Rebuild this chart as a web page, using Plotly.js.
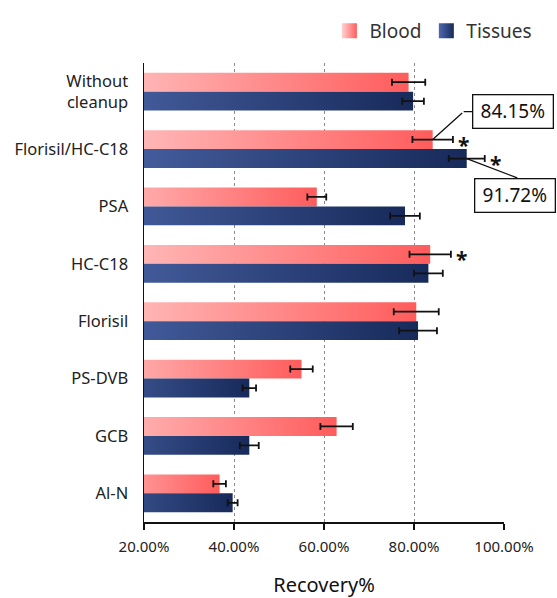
<!DOCTYPE html>
<html>
<head>
<meta charset="utf-8">
<script src="https://cdn.plot.ly/plotly-3.0.1.min.js"></script>
<style>html,body{margin:0;padding:0;background:#fff;}#chart{width:557px;height:598px;}</style>
</head>
<body>
<div id="chart"></div>
<script>
const categories = ['Without<br>cleanup', 'Florisil/HC-C18', 'PSA', 'HC-C18', 'Florisil', 'PS-DVB', 'GCB', 'Al-N'];
const blood = [78.8, 84.15, 58.4, 83.6, 80.5, 55.0, 62.8, 36.8];
const bloodErr = [3.7, 4.5, 2.1, 4.6, 5.0, 2.5, 3.6, 1.4];
const tissues = [79.8, 91.72, 78.0, 83.2, 80.9, 43.4, 43.4, 39.7];
const tissuesErr = [2.4, 4.0, 3.3, 3.2, 4.2, 1.5, 2.1, 1.1];
const seriesNames = ['Blood', 'Tissues'];
const xTicks = [20, 40, 60, 80, 100];
const xTickText = ['20.00%', '40.00%', '60.00%', '80.00%', '100.00%'];
const starred = [{series: 0, index: 1}, {series: 1, index: 1}, {series: 0, index: 3}];

const FONT = 'Noto Sans, Open Sans, sans-serif';
const vals = [blood, tissues];
const errs = [bloodErr, tissuesErr];
const half = 0.165;

const traces = [0, 1].map(s => ({
  type: 'bar',
  orientation: 'h',
  name: seriesNames[s],
  y: categories,
  x: vals[s],
  marker: {color: s === 0 ? '#ff8a8a' : '#2f4687', line: {width: 0}},
  error_x: {type: 'data', array: errs[s], visible: true, color: '#111', thickness: 1.8, width: 3.5}
}));

const annotations = [];
starred.forEach(p => {
  annotations.push({
    x: vals[p.series][p.index] + errs[p.series][p.index],
    y: p.index + (p.series === 0 ? -half : half),
    xref: 'x', yref: 'y', text: '<b>*</b>', showarrow: false,
    xanchor: 'center', yanchor: 'middle', xshift: 11, yshift: -5,
    font: {family: FONT, size: 21, color: '#111'}
  });
});
annotations.push({
  x: blood[1], y: 1 - half, xref: 'x', yref: 'y', text: '', showarrow: true,
  arrowhead: 0, arrowwidth: 1.3, arrowcolor: '#111', ax: 31, ay: -28, standoff: 0, startstandoff: 0
});
annotations.push({
  x: blood[1], y: 1 - half, xref: 'x', yref: 'y', text: '', showarrow: true,
  arrowhead: 0, arrowwidth: 1.3, arrowcolor: '#111', ax: 10, ay: 0, xshift: 31, yshift: 28, standoff: 0, startstandoff: 0
});
annotations.push({
  x: 1.026, y: 0.894, xref: 'paper', yref: 'paper', text: blood[1].toFixed(2) + '%', showarrow: false,
  xanchor: 'center', yanchor: 'middle', bordercolor: '#111', borderwidth: 1.3, borderpad: 3,
  bgcolor: '#fff', width: 73, height: 26, font: {family: FONT, size: 19, color: '#111'}
});
annotations.push({
  x: tissues[1], y: 1 + half, xref: 'x', yref: 'y', text: '', showarrow: true,
  arrowhead: 0, arrowwidth: 1.3, arrowcolor: '#111', ax: 52, ay: 20, standoff: 0, startstandoff: 0
});
annotations.push({
  x: 1.030, y: 0.712, xref: 'paper', yref: 'paper', text: tissues[1].toFixed(2) + '%', showarrow: false,
  xanchor: 'center', yanchor: 'middle', bordercolor: '#111', borderwidth: 1.3, borderpad: 3,
  bgcolor: '#fff', width: 73, height: 26, font: {family: FONT, size: 19, color: '#111'}
});

const layout = {
  width: 557, height: 598,
  margin: {l: 143.5, r: 52.5, t: 50, b: 76},
  paper_bgcolor: '#fff', plot_bgcolor: '#fff',
  barmode: 'group', bargap: 0.34, bargroupgap: 0,
  font: {family: FONT, color: '#222'},
  showlegend: true,
  legend: {
    orientation: 'h', x: 0.515, y: 1.07, xanchor: 'left', yanchor: 'middle',
    font: {family: FONT, size: 19, color: '#333'}, bgcolor: 'rgba(0,0,0,0)', traceorder: 'normal'
  },
  xaxis: {
    range: [20, 100], tickmode: 'array', tickvals: xTicks, ticktext: xTickText,
    showline: true, linecolor: '#111', linewidth: 1.5, mirror: false,
    ticks: 'outside', ticklen: 6, tickwidth: 1.5, tickcolor: '#111',
    showgrid: true, gridcolor: '#8a8a8a', griddash: 'dot', gridwidth: 1, zeroline: false,
    tickfont: {family: FONT, size: 15, color: '#222'}, ticklabelstandoff: 4,
    title: {text: 'Recovery%', font: {family: FONT, size: 20, color: '#111'}, standoff: 25},
    fixedrange: true
  },
  yaxis: {
    type: 'category', autorange: 'reversed',
    showline: true, linecolor: '#111', linewidth: 1.5, ticks: '', showgrid: false, zeroline: false,
    tickfont: {family: FONT, size: 16.5, color: '#222'}, ticklabelstandoff: 11,
    fixedrange: true
  },
  annotations: annotations
};

const gd = document.getElementById('chart');
Plotly.newPlot(gd, traces, layout, {displayModeBar: false, staticPlot: true}).then(() => {
  const svg = gd.querySelector('svg.main-svg');
  const ns = 'http://www.w3.org/2000/svg';
  let defs = svg.querySelector('defs');
  if (!defs) { defs = document.createElementNS(ns, 'defs'); svg.insertBefore(defs, svg.firstChild); }
  const grads = [
    {id: 'gBlood', stops: [['0%', '#ffd2d2'], ['100%', '#ff5c5c']]},
    {id: 'gTissue', stops: [['0%', '#4f69ad'], ['100%', '#172a5a']]}
  ];
  grads.forEach(g => {
    const lg = document.createElementNS(ns, 'linearGradient');
    lg.setAttribute('id', g.id);
    lg.setAttribute('x1', '0'); lg.setAttribute('y1', '0');
    lg.setAttribute('x2', '1'); lg.setAttribute('y2', '0');
    g.stops.forEach(st => {
      const s = document.createElementNS(ns, 'stop');
      s.setAttribute('offset', st[0]); s.setAttribute('stop-color', st[1]);
      lg.appendChild(s);
    });
    defs.appendChild(lg);
  });
  const ids = ['gBlood', 'gTissue'];
  gd.querySelectorAll('.barlayer .trace').forEach((t, i) => {
    t.querySelectorAll('.point path').forEach(p => { p.style.fill = 'url(#' + ids[i] + ')'; });
  });
  gd.querySelectorAll('.legend .traces').forEach((t, i) => {
    t.querySelectorAll('.legendpoints path').forEach(p => {
      p.setAttribute('d', 'M7.5,7.5H-7.5V-7.5H7.5Z');
      p.style.fill = 'url(#' + ids[i] + ')';
    });
  });
});
</script>
</body>
</html>
